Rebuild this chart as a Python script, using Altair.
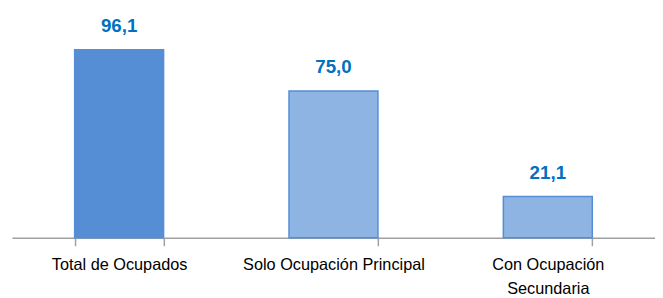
import altair as alt
import pandas as pd

categories = ["Total de Ocupados", "Solo Ocupación Principal", "Con Ocupación|Secundaria"]
values = [96.1, 75.0, 21.1]
fills = ["#558ED5", "#8DB4E2", "#8DB4E2"]

df = pd.DataFrame({"cat": categories, "v": values})

FONT = "Liberation Sans"

x = alt.X(
    "cat:N",
    sort=categories,
    title=None,
    scale=alt.Scale(paddingInner=0.585, paddingOuter=0.2925),
    axis=alt.Axis(
        labelAngle=0,
        labelFont=FONT,
        labelFontSize=16.5,
        labelColor="#000000",
        labelPadding=11,
        labelLineHeight=24,
        labelExpr="split(datum.label, '|')",
        domainColor="#A0A0A0",
        domainWidth=1.5,
        tickColor="#A0A0A0",
        tickWidth=1.5,
        tickSize=8,
        tickBand="extent",
        labelLimit=300,
    ),
)

bars = alt.Chart(df).mark_bar(stroke="#558ED5", strokeWidth=1.5).encode(
    x=x,
    y=alt.Y("v:Q", scale=alt.Scale(domain=[0, 116.4], nice=False), axis=None),
    fill=alt.Fill("cat:N", scale=alt.Scale(domain=categories, range=fills), legend=None),
)

text = alt.Chart(df).transform_calculate(
    lab="replace(format(datum.v, '.1f'), '.', ',')"
).mark_text(
    font=FONT, fontSize=19, fontWeight="bold", color="#0070C0", dy=-24, baseline="middle"
).encode(
    x=alt.X("cat:N", sort=categories),
    y=alt.Y("v:Q"),
    text="lab:N",
)

chart = alt.layer(bars, text).properties(
    width=652,
    height=231,
    autosize=alt.AutoSizeParams(type="none"),
    padding={"left": 4, "top": 0, "right": 0, "bottom": 57},
).configure_view(stroke=None)

chart.save("out.html", embed_options={"renderer": "svg", "actions": False})
